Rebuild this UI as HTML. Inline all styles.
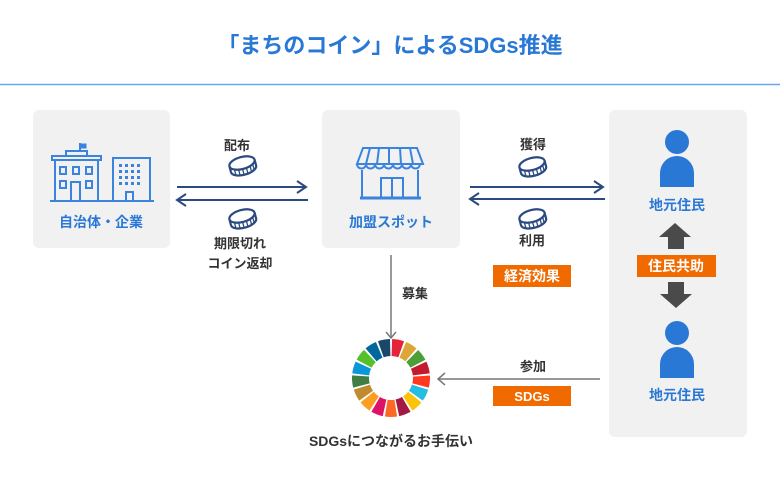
<!DOCTYPE html>
<html><head><meta charset="utf-8"><style>
html,body{margin:0;padding:0;background:#fff;}
svg{display:block;font-family:"Liberation Sans","Noto Sans CJK JP",sans-serif;}
.b{font-weight:bold;}
</style></head><body>
<svg width="780" height="503" viewBox="0 0 780 503" xmlns="http://www.w3.org/2000/svg">
<defs>
<g id="coin">
 <g transform="rotate(-15)">
  <path d="M-13 0 L-13 6 A13 6 0 0 0 13 6 L13 0" fill="#fff" stroke="#2b4a80" stroke-width="2.2"/>
  <g stroke="#2b4a80" stroke-width="1.3">
   <line x1="-9" y1="4" x2="-9" y2="10"/><line x1="-5" y1="5" x2="-5" y2="11.5"/><line x1="-1" y1="6" x2="-1" y2="12"/><line x1="3" y1="6" x2="3" y2="12"/><line x1="7" y1="5" x2="7" y2="11.5"/><line x1="10" y1="4" x2="10" y2="10"/>
  </g>
  <ellipse cx="0" cy="0" rx="13" ry="6" fill="#fff" stroke="#2b4a80" stroke-width="2.2"/>
 </g>
</g>
<path id="wedge" d="M-6.10 -38.52 A39 39 0 0 1 6.10 -38.52 L3.44 -21.73 A22 22 0 0 0 -3.44 -21.73 Z"/>
<g id="person">
 <circle cx="0" cy="0" r="12" fill="#2a78d6"/>
 <path d="M-17 45 L-17 31 A17 17 0 0 1 17 31 L17 45 Z" fill="#2a78d6"/>
</g>
</defs>

<text x="390" y="53" text-anchor="middle" class="b" font-size="22" fill="#2a78d6">「まちのコイン」によるSDGs推進</text>
<line x1="0" y1="84.5" x2="780" y2="84.5" stroke="#6aa6ea" stroke-width="1.5"/>

<rect x="33" y="110" width="137" height="138" rx="6" fill="#f1f1f1"/>
<rect x="322" y="110" width="138" height="138" rx="6" fill="#f1f1f1"/>
<rect x="609" y="110" width="138" height="327" rx="6" fill="#f1f1f1"/>

<!-- buildings -->
<g stroke="#3a84e0" stroke-width="2" fill="none">
 <line x1="80" y1="143" x2="80" y2="151"/>
 <path d="M80 144 L86 144 L86 148 L80 148" fill="#3a84e0" stroke-width="1"/>
 <rect x="66" y="151" width="21" height="5"/>
 <rect x="52" y="156" width="49" height="4"/>
 <path d="M55 160 L55 201 M98 160 L98 201"/>
 <rect x="60" y="167" width="6" height="7"/><rect x="73" y="167" width="6" height="7"/><rect x="86" y="167" width="6" height="7"/>
 <rect x="60" y="181" width="6" height="7"/><rect x="86" y="181" width="6" height="7"/>
 <path d="M71 201 L71 182 L80 182 L80 201"/>
 <rect x="113" y="158" width="37" height="43"/>
 <path d="M126 201 L126 192 L133 192 L133 201"/>
 <line x1="50" y1="201" x2="154" y2="201"/>
</g>
<g fill="#3a84e0">
 <rect x="119" y="164" width="3" height="3"/><rect x="125" y="164" width="3" height="3"/><rect x="131" y="164" width="3" height="3"/><rect x="137" y="164" width="3" height="3"/>
 <rect x="119" y="170" width="3" height="3"/><rect x="125" y="170" width="3" height="3"/><rect x="131" y="170" width="3" height="3"/><rect x="137" y="170" width="3" height="3"/>
 <rect x="119" y="176" width="3" height="3"/><rect x="125" y="176" width="3" height="3"/><rect x="131" y="176" width="3" height="3"/><rect x="137" y="176" width="3" height="3"/>
 <rect x="119" y="182" width="3" height="3"/><rect x="125" y="182" width="3" height="3"/><rect x="131" y="182" width="3" height="3"/><rect x="137" y="182" width="3" height="3"/>
</g>
<text x="101" y="227" text-anchor="middle" class="b" font-size="14" fill="#2a78d6">自治体・企業</text>

<!-- store -->
<g stroke="#3a84e0" stroke-width="2" fill="none">
 <path d="M363 148 L417 148 L423 164 L357 164 Z"/>
 <path d="M357 164 A4.4 4.4 0 0 0 366 164 A4.4 4.4 0 0 0 375 164 A4.4 4.4 0 0 0 384 164 A4.4 4.4 0 0 0 393 164 A4.4 4.4 0 0 0 402 164 A4.4 4.4 0 0 0 411 164 A4.4 4.4 0 0 0 420 164"/>
 <path d="M370 148 L366 164 M379 148 L377 164 M389 148 L389 164 M400 148 L401 164 M410 148 L413 164"/>
 <path d="M362 170 L362 198 M418 170 L418 198"/>
 <rect x="381" y="178" width="22" height="20"/>
 <line x1="392" y1="178" x2="392" y2="198"/>
 <line x1="360" y1="198" x2="421" y2="198" stroke-width="3"/>
</g>
<text x="391" y="227" text-anchor="middle" class="b" font-size="14" fill="#2a78d6">加盟スポット</text>

<!-- left arrows -->
<text x="237" y="150" text-anchor="middle" class="b" font-size="13" fill="#333">配布</text>
<use href="#coin" x="242" y="163"/>
<g stroke="#2b4a80" stroke-width="2" fill="none">
 <line x1="177" y1="187" x2="306" y2="187"/><path d="M297 181 L306 187 L297 193"/>
 <line x1="177" y1="200" x2="308" y2="200"/><path d="M186 194 L177 200 L186 206"/>
 <line x1="470" y1="187" x2="603" y2="187"/><path d="M594 181 L603 187 L594 193"/>
 <line x1="470" y1="199" x2="605" y2="199"/><path d="M479 193 L470 199 L479 205"/>
</g>
<use href="#coin" x="242" y="216"/>
<text x="240" y="248" text-anchor="middle" class="b" font-size="13" fill="#333">期限切れ</text>
<text x="240" y="268" text-anchor="middle" class="b" font-size="13" fill="#333">コイン返却</text>

<!-- middle arrows -->
<text x="533" y="149" text-anchor="middle" class="b" font-size="13" fill="#333">獲得</text>
<use href="#coin" x="532" y="164"/>
<use href="#coin" x="532" y="216"/>
<text x="532" y="245" text-anchor="middle" class="b" font-size="13" fill="#333">利用</text>
<rect x="493" y="265" width="78" height="22" fill="#f06a00"/>
<text x="532" y="281" text-anchor="middle" class="b" font-size="14" fill="#fff">経済効果</text>

<!-- right persons -->
<use href="#person" x="677" y="142"/>
<text x="677" y="210" text-anchor="middle" class="b" font-size="14" fill="#2a78d6">地元住民</text>
<path d="M659 237 L675 223 L691 237 L684 237 L684 249 L668 249 L668 237 Z" fill="#4a4a4a"/>
<rect x="637" y="255" width="79" height="22" fill="#f06a00"/>
<text x="676" y="271" text-anchor="middle" class="b" font-size="14" fill="#fff">住民共助</text>
<path d="M668 282 L684 282 L684 294 L692 294 L676 308 L660 294 L668 294 Z" fill="#4a4a4a"/>
<use href="#person" x="677" y="333"/>
<text x="677" y="400" text-anchor="middle" class="b" font-size="14" fill="#2a78d6">地元住民</text>

<!-- recruitment arrow -->
<g stroke="#777" stroke-width="1.5" fill="none">
 <line x1="391" y1="255" x2="391" y2="338"/><path d="M386 332 L391 338 L396 332"/>
 <line x1="438" y1="379" x2="600" y2="379"/><path d="M445 373 L438 379 L445 385"/>
</g>
<text x="415" y="298" text-anchor="middle" class="b" font-size="13" fill="#333">募集</text>
<text x="533" y="371" text-anchor="middle" class="b" font-size="13" fill="#333">参加</text>
<rect x="493" y="386" width="78" height="20" fill="#f06a00"/>
<text x="532" y="401" text-anchor="middle" class="b" font-size="13" fill="#fff">SDGs</text>

<!-- SDG wheel -->
<g transform="translate(391,378)">
 <use href="#wedge" fill="#E5243B" transform="rotate(10.6)"/>
 <use href="#wedge" fill="#DDA63A" transform="rotate(31.8)"/>
 <use href="#wedge" fill="#4C9F38" transform="rotate(53)"/>
 <use href="#wedge" fill="#C5192D" transform="rotate(74.1)"/>
 <use href="#wedge" fill="#FF3A21" transform="rotate(95.3)"/>
 <use href="#wedge" fill="#26BDE2" transform="rotate(116.5)"/>
 <use href="#wedge" fill="#FCC30B" transform="rotate(137.7)"/>
 <use href="#wedge" fill="#A21942" transform="rotate(158.9)"/>
 <use href="#wedge" fill="#FD6925" transform="rotate(180)"/>
 <use href="#wedge" fill="#DD1367" transform="rotate(201.2)"/>
 <use href="#wedge" fill="#FD9D24" transform="rotate(222.4)"/>
 <use href="#wedge" fill="#BF8B2E" transform="rotate(243.6)"/>
 <use href="#wedge" fill="#3F7E44" transform="rotate(264.8)"/>
 <use href="#wedge" fill="#0A97D9" transform="rotate(285.9)"/>
 <use href="#wedge" fill="#56C02B" transform="rotate(307.1)"/>
 <use href="#wedge" fill="#00689D" transform="rotate(328.3)"/>
 <use href="#wedge" fill="#19486A" transform="rotate(349.5)"/>
</g>
<text x="391" y="446" text-anchor="middle" class="b" font-size="14" fill="#333">SDGsにつながるお手伝い</text>
</svg>
</body></html>
